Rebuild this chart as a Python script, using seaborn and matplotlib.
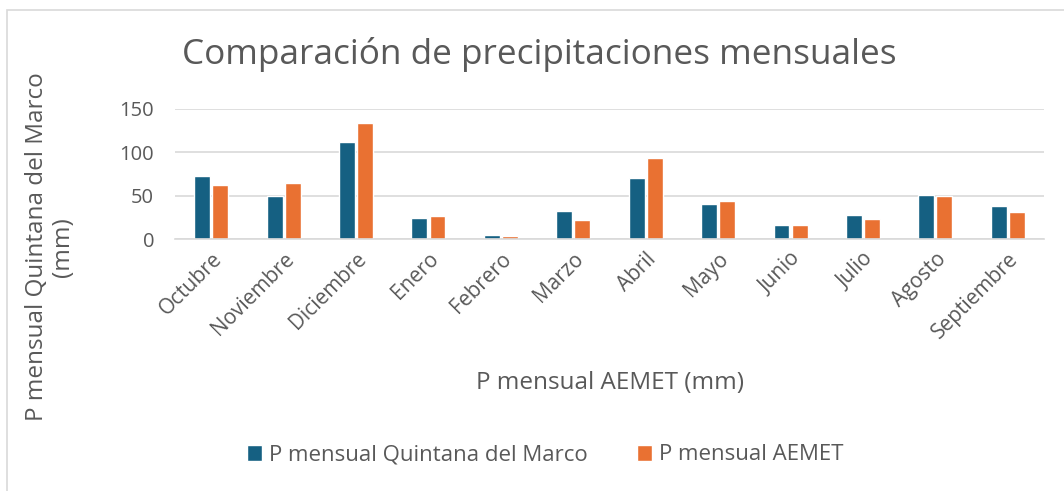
import matplotlib
matplotlib.use("Agg")
import matplotlib.pyplot as plt
import seaborn as sns
import pandas as pd
from matplotlib.patches import Rectangle

meses = ["Octubre", "Noviembre", "Diciembre", "Enero", "Febrero", "Marzo",
         "Abril", "Mayo", "Junio", "Julio", "Agosto", "Septiembre"]
p_quintana = [72.5, 50, 112.5, 24, 5, 32, 70, 40, 16, 27.5, 50.5, 38]
p_aemet = [62, 65, 134, 26, 4, 22, 93, 44, 16.5, 23, 50, 31.5]
serie_q = "P mensual Quintana del Marco"
serie_a = "P mensual AEMET"

df = pd.DataFrame({
    "Mes": meses * 2,
    "P": p_quintana + p_aemet,
    "Serie": [serie_q] * len(meses) + [serie_a] * len(meses),
})

sns.set_theme(style="white")
plt.rcParams['font.family'] = ['Open Sans', 'DejaVu Sans']
TXT = "#595959"

fig = plt.figure(figsize=(10.64, 4.91), dpi=100)
ax = fig.add_axes([175/1064, 1 - 239/491, (1044 - 175)/1064, 130/491])

sns.barplot(data=df, x="Mes", y="P", hue="Serie", order=meses,
            hue_order=[serie_q, serie_a],
            palette=["#156082", "#E97132"], width=0.5, gap=0.12,
            ax=ax, legend=True, saturation=1)

ax.set_ylim(0, 150)
ax.set_yticks([0, 50, 100, 150])
ax.set_xlim(-0.5, len(meses) - 0.5)
ax.grid(axis="y", color="#d9d9d9", linewidth=1.2)
ax.set_axisbelow(True)
for s in ["top", "right", "left"]:
    ax.spines[s].set_visible(False)
ax.spines["bottom"].set_color("#d9d9d9")
ax.spines["bottom"].set_linewidth(1.2)
ax.tick_params(axis="both", length=0, colors=TXT)
ax.tick_params(axis="y", pad=15, labelsize=14.5)
ax.tick_params(axis="x", pad=7, labelsize=15)
for lab in ax.get_xticklabels():
    lab.set_rotation(45)
    lab.set_ha("right")
    lab.set_rotation_mode("anchor")

ax.set_xlabel("")
ax.set_ylabel("")
fig.text(610/1064, 1 - 383/491, "P mensual AEMET (mm)", ha="center", va="center",
         color=TXT, fontsize=17.5)
fig.text(50/1064, 1 - 247/491, "P mensual Quintana del Marco\n(mm)", rotation=90,
         ha="center", va="center", color=TXT, fontsize=17.5, linespacing=1.15,
         multialignment="center")
fig.text(539/1064, 1 - 55/491, "Comparación de precipitaciones mensuales",
         ha="center", va="center", color=TXT, fontsize=25.3)

leg = ax.get_legend()
handles, labels = ax.get_legend_handles_labels()
leg.remove()
fig.legend(handles, labels, loc="center", bbox_to_anchor=(545/1064, 1 - 455/491),
           ncol=2, frameon=False, fontsize=16, labelcolor=TXT,
           handlelength=0.7, handleheight=0.7, handletextpad=0.3, columnspacing=2.2)

fig.patches.append(Rectangle((7/1064, -0.1), 1.2, 1 - 10/491 + 0.1,
                             transform=fig.transFigure, fill=False,
                             edgecolor="#d9d9d9", linewidth=1.2))

fig.savefig("out.png", dpi=100, facecolor="white")
